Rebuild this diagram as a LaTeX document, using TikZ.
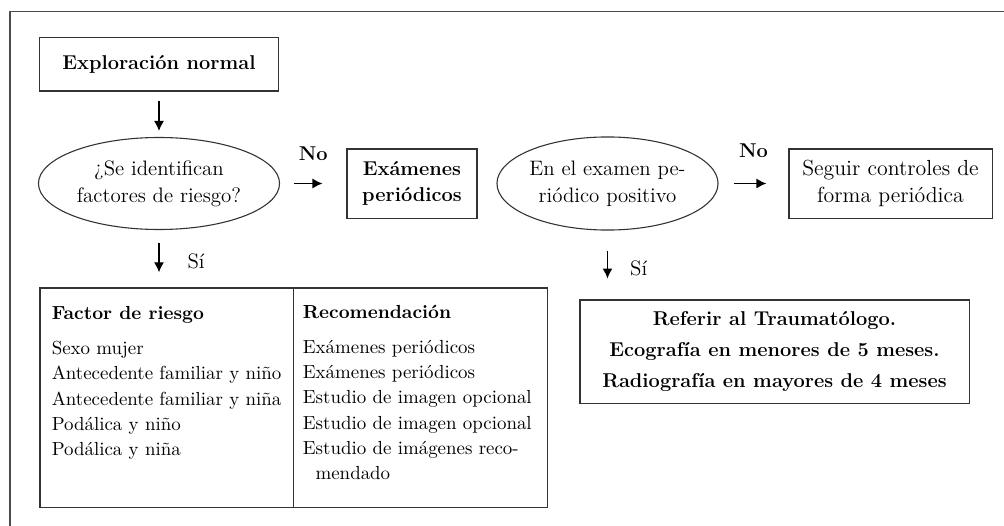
\documentclass[tikz,border=0pt]{standalone}
\usepackage{fontspec}
\usetikzlibrary{shapes.geometric,arrows.meta,positioning}

\tikzset{
  caja/.style = {draw = black!80, line width = 0.6pt, shape = rectangle, inner sep = 0pt, align = center, font = \bfseries\fontsize{11}{14.7}\selectfont},
  ovalo/.style = {draw = black!80, line width = 0.6pt, shape = ellipse, inner sep = 0pt, align = center, font = \fontsize{11.5}{14.8}\selectfont},
  flecha/.style = {line width = 0.7pt, -{Latex[length = 5.5pt, width = 5.5pt]}},
  etisi/.style = {font = \fontsize{11.5}{13}\selectfont},
  etino/.style = {font = \bfseries\fontsize{11}{13}\selectfont},
  columna/.style = {inner sep = 0pt, align = left, font = \fontsize{10.4}{13.9}\selectfont}
}

\begin{document}
\begin{tikzpicture}[x = 0.55pt, y = -0.55pt]
\useasboundingbox (0,0) rectangle (1004,526);
\draw[black!70, line width = 0.6pt] (10,526) -- (10,11.5) -- (1004,11.5);

\node[caja, minimum width = 131.5pt, minimum height = 29.2pt] (explo) at (159,64.5) {Exploración normal};
\node[ovalo, minimum width = 132.6pt, minimum height = 50.6pt] (riesgo) at (159,183.5) {¿Se identifican\\factores de riesgo?};
\node[caja, minimum width = 71.5pt, minimum height = 38pt] (exam) at (412,183.5) {Exámenes\\periódicos};
\node[ovalo, minimum width = 121.6pt, minimum height = 51.2pt] (positivo) at (607.5,183.5) {En el examen pe-\\riódico positivo};
\node[caja, font = \fontsize{12}{14.8}\selectfont, minimum width = 111.7pt, minimum height = 38pt] (seguir) at (890.5,183.5) {Seguir controles de\\forma periódica};
\node[caja, font = \bfseries\fontsize{11}{17}\selectfont, minimum width = 214pt, minimum height = 56.7pt] (referir) at (774.5,351.5) {Referir al Traumatólogo.\\Ecografía en menores de 5 meses.\\Radiografía en mayores de 4 meses};
\node[caja, minimum width = 278.9pt, minimum height = 120.5pt] (tabla) at (293.5,397.5) {};

\draw[flecha, shorten < = 5pt, shorten > = 3.3pt] (explo) -- (riesgo);
\draw[flecha, shorten < = 7.4pt, shorten > = 13.2pt] (riesgo) -- (exam) node[etino, midway, above = 9pt] (no1) {No};
\draw[flecha, shorten < = 6.9pt, shorten > = 8.3pt] (riesgo) -- (riesgo |- tabla.north) node[etisi, midway, right = 12pt, yshift = -1.5pt] (si1) {Sí};
\draw[flecha, shorten < = 8.3pt, shorten > = 12.1pt] (positivo) -- (seguir) node[etino, midway, above = 10.8pt] (no2) {No};
\draw[flecha, shorten < = 11pt, shorten > = 11.5pt] (positivo) -- (positivo |- referir.north) node[etisi, midway, right = 8.8pt, yshift = -1.6pt] (si2) {Sí};

\coordinate (div) at ([xshift = 139.7pt]tabla.north west);
\draw[black!80, line width = 0.6pt] (div) -- (div |- tabla.south);
\node[columna, anchor = north west] (factor) at ([xshift = 6.6pt, yshift = -10.3pt]tabla.north west) {\textbf{Factor de riesgo}\\[5.4pt]
Sexo mujer\\
Antecedente familiar y niño\\
Antecedente familiar y niña\\
Podálica y niño\\
Podálica y niña};
\node[columna, anchor = north west] (recom) at ([xshift = 5pt, yshift = -9.4pt]div) {\textbf{Recomendación}\\[5.4pt]
Exámenes periódicos\\
Exámenes periódicos\\
Estudio de imagen opcional\\
Estudio de imagen opcional\\
Estudio de imágenes reco-\\
\hspace*{7pt}mendado};
\end{tikzpicture}
\end{document}
